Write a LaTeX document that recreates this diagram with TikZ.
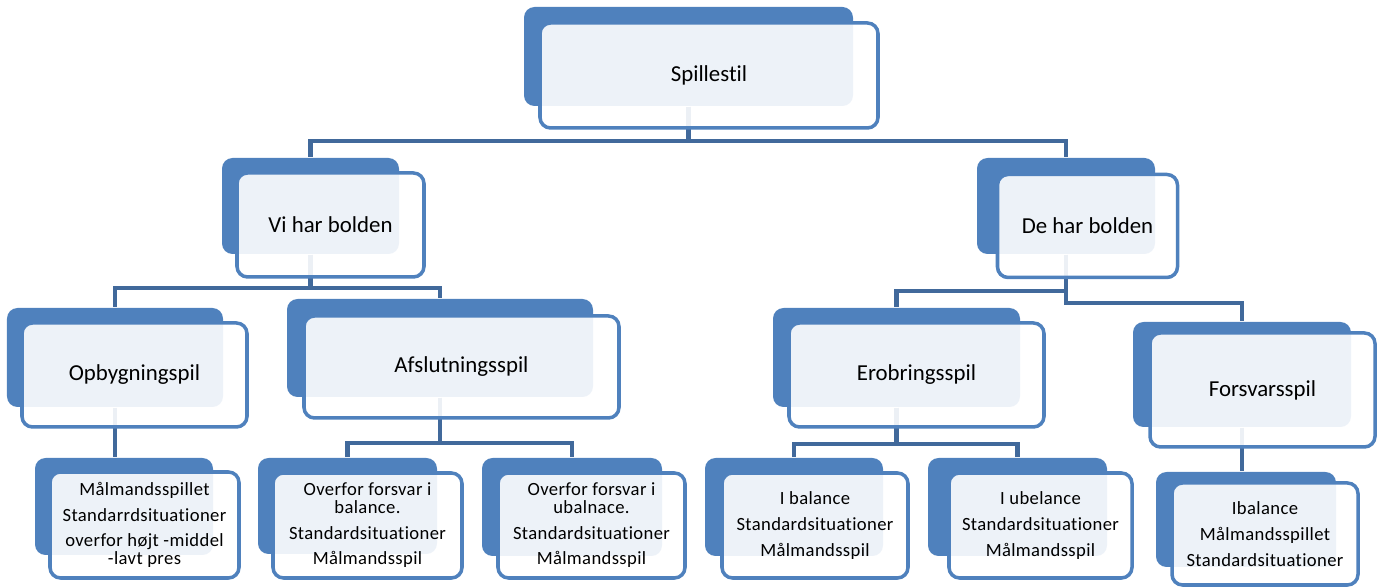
\documentclass[tikz,border=0pt]{standalone}
\usepackage{fontspec}
\setmainfont{Carlito}[RawFeature=-liga]
\usepackage{tikz}

\definecolor{boxblue}{HTML}{4F81BD}
\definecolor{linkblue}{HTML}{41699B}

\tikzset{
  back/.style={fill=boxblue,rounded corners=3pt,inner sep=0pt},
  front/.style={draw=boxblue,line width=1pt,fill=white,fill opacity=0.9,
    text opacity=1,rounded corners=3pt,align=center,inner sep=0pt,
    font=\fontsize{6.5}{8}\selectfont},
  leaf/.style={front,font=\fontsize{5.3}{7.3}\selectfont\addfontfeatures{LetterSpace=2}},
  conn/.style={draw=linkblue,line width=1.2pt}
}

\begin{document}
\begin{tikzpicture}
  \useasboundingbox (0,0) rectangle (13.82,-5.87);

  % back cards
  \node[back,minimum width=3.29cm,minimum height=0.99cm] (top-b)  at (6.885,-0.565) {};
  \node[back,minimum width=1.77cm,minimum height=0.96cm] (vi-b)   at (3.105,-2.06)  {};
  \node[back,minimum width=1.78cm,minimum height=0.96cm] (de-b)   at (10.66,-2.06)  {};
  \node[back,minimum width=2.16cm,minimum height=0.99cm] (opb-b)  at (1.15,-3.575)  {};
  \node[back,minimum width=3.06cm,minimum height=0.98cm] (afs-b)  at (4.40,-3.48)   {};
  \node[back,minimum width=2.47cm,minimum height=0.99cm] (ero-b)  at (8.965,-3.575) {};
  \node[back,minimum width=2.18cm,minimum height=1.05cm] (fors-b) at (12.42,-3.745) {};
  \node[back,minimum width=1.78cm,minimum height=0.97cm] (mal-b)  at (1.24,-5.065)  {};
  \node[back,minimum width=1.79cm,minimum height=0.96cm] (bal-b)  at (3.475,-5.06)  {};
  \node[back,minimum width=1.80cm,minimum height=0.98cm] (ubal-b) at (5.72,-5.07)   {};
  \node[back,minimum width=1.78cm,minimum height=0.98cm] (ib-b)   at (7.94,-5.07)   {};
  \node[back,minimum width=1.79cm,minimum height=0.98cm] (iub-b)  at (10.175,-5.07) {};
  \node[back,minimum width=1.80cm,minimum height=0.95cm] (ib2-b)  at (12.46,-5.195) {};

  % connectors
  \foreach \from/\to/\drop in {top-b/vi-b/0.34,top-b/de-b/0.34,
      vi-b/opb-b/0.33,vi-b/afs-b/0.33,afs-b/bal-b/0.45,afs-b/ubal-b/0.45,
      de-b/ero-b/0.36,de-b/fors-b/0.48,ero-b/ib-b/0.36,ero-b/iub-b/0.36}
    \draw[conn] (\from.south) -- ++(0,-\drop) -| (\to.north);
  \draw[conn] (opb-b.south) -- (opb-b.south |- mal-b.north);
  \draw[conn] (fors-b.south) -- (fors-b.south |- ib2-b.north);

  % front cards
  \node[front,minimum width=3.38cm,minimum height=1.05cm] (top)  at (7.09,-0.755)  {Spillestil};
  \node[front,minimum width=1.87cm,minimum height=1.04cm] (vi)   at (3.305,-2.25)  {Vi har bolden};
  \node[front,minimum width=1.80cm,minimum height=1.03cm] (de)   at (10.875,-2.26) {De har bolden};
  \node[front,minimum width=2.25cm,minimum height=1.04cm] (opb)  at (1.345,-3.75)  {Opbygningspil};
  \node[front,minimum width=3.15cm,minimum height=1.02cm] (afs)  at (4.615,-3.67)  {Afslutningsspil};
  \node[front,minimum width=2.55cm,minimum height=1.04cm] (ero)  at (9.165,-3.75)  {Erobringsspil};
  \node[front,minimum width=2.25cm,minimum height=1.14cm] (fors) at (12.625,-3.90) {Forsvarsspil};

  \node[leaf,minimum width=1.89cm,minimum height=1.06cm] (mal)  at (1.445,-5.25)
    {Målmandsspillet\\Standarrdsituationer\\overfor højt -middel\\[-2.3pt]-lavt pres};
  \node[leaf,minimum width=1.89cm,minimum height=1.05cm] (bal)  at (3.675,-5.255)
    {Overfor forsvar i\\[-2.3pt]balance.\\Standardsituationer\\Målmandsspil};
  \node[leaf,minimum width=1.87cm,minimum height=1.05cm] (ubal) at (5.915,-5.255)
    {Overfor forsvar i\\[-2.3pt]ubalnace.\\Standardsituationer\\Målmandsspil};
  \node[leaf,minimum width=1.86cm,minimum height=1.05cm] (ib)   at (8.15,-5.255)
    {I balance\\Standardsituationer\\Målmandsspil};
  \node[leaf,minimum width=1.83cm,minimum height=1.05cm] (iub)  at (10.405,-5.255)
    {I ubelance\\Standardsituationer\\Målmandsspil};
  \node[leaf,minimum width=1.86cm,minimum height=1.02cm] (ib2)  at (12.65,-5.34)
    {Ibalance\\Målmandsspillet\\Standardsituationer};
\end{tikzpicture}
\end{document}
